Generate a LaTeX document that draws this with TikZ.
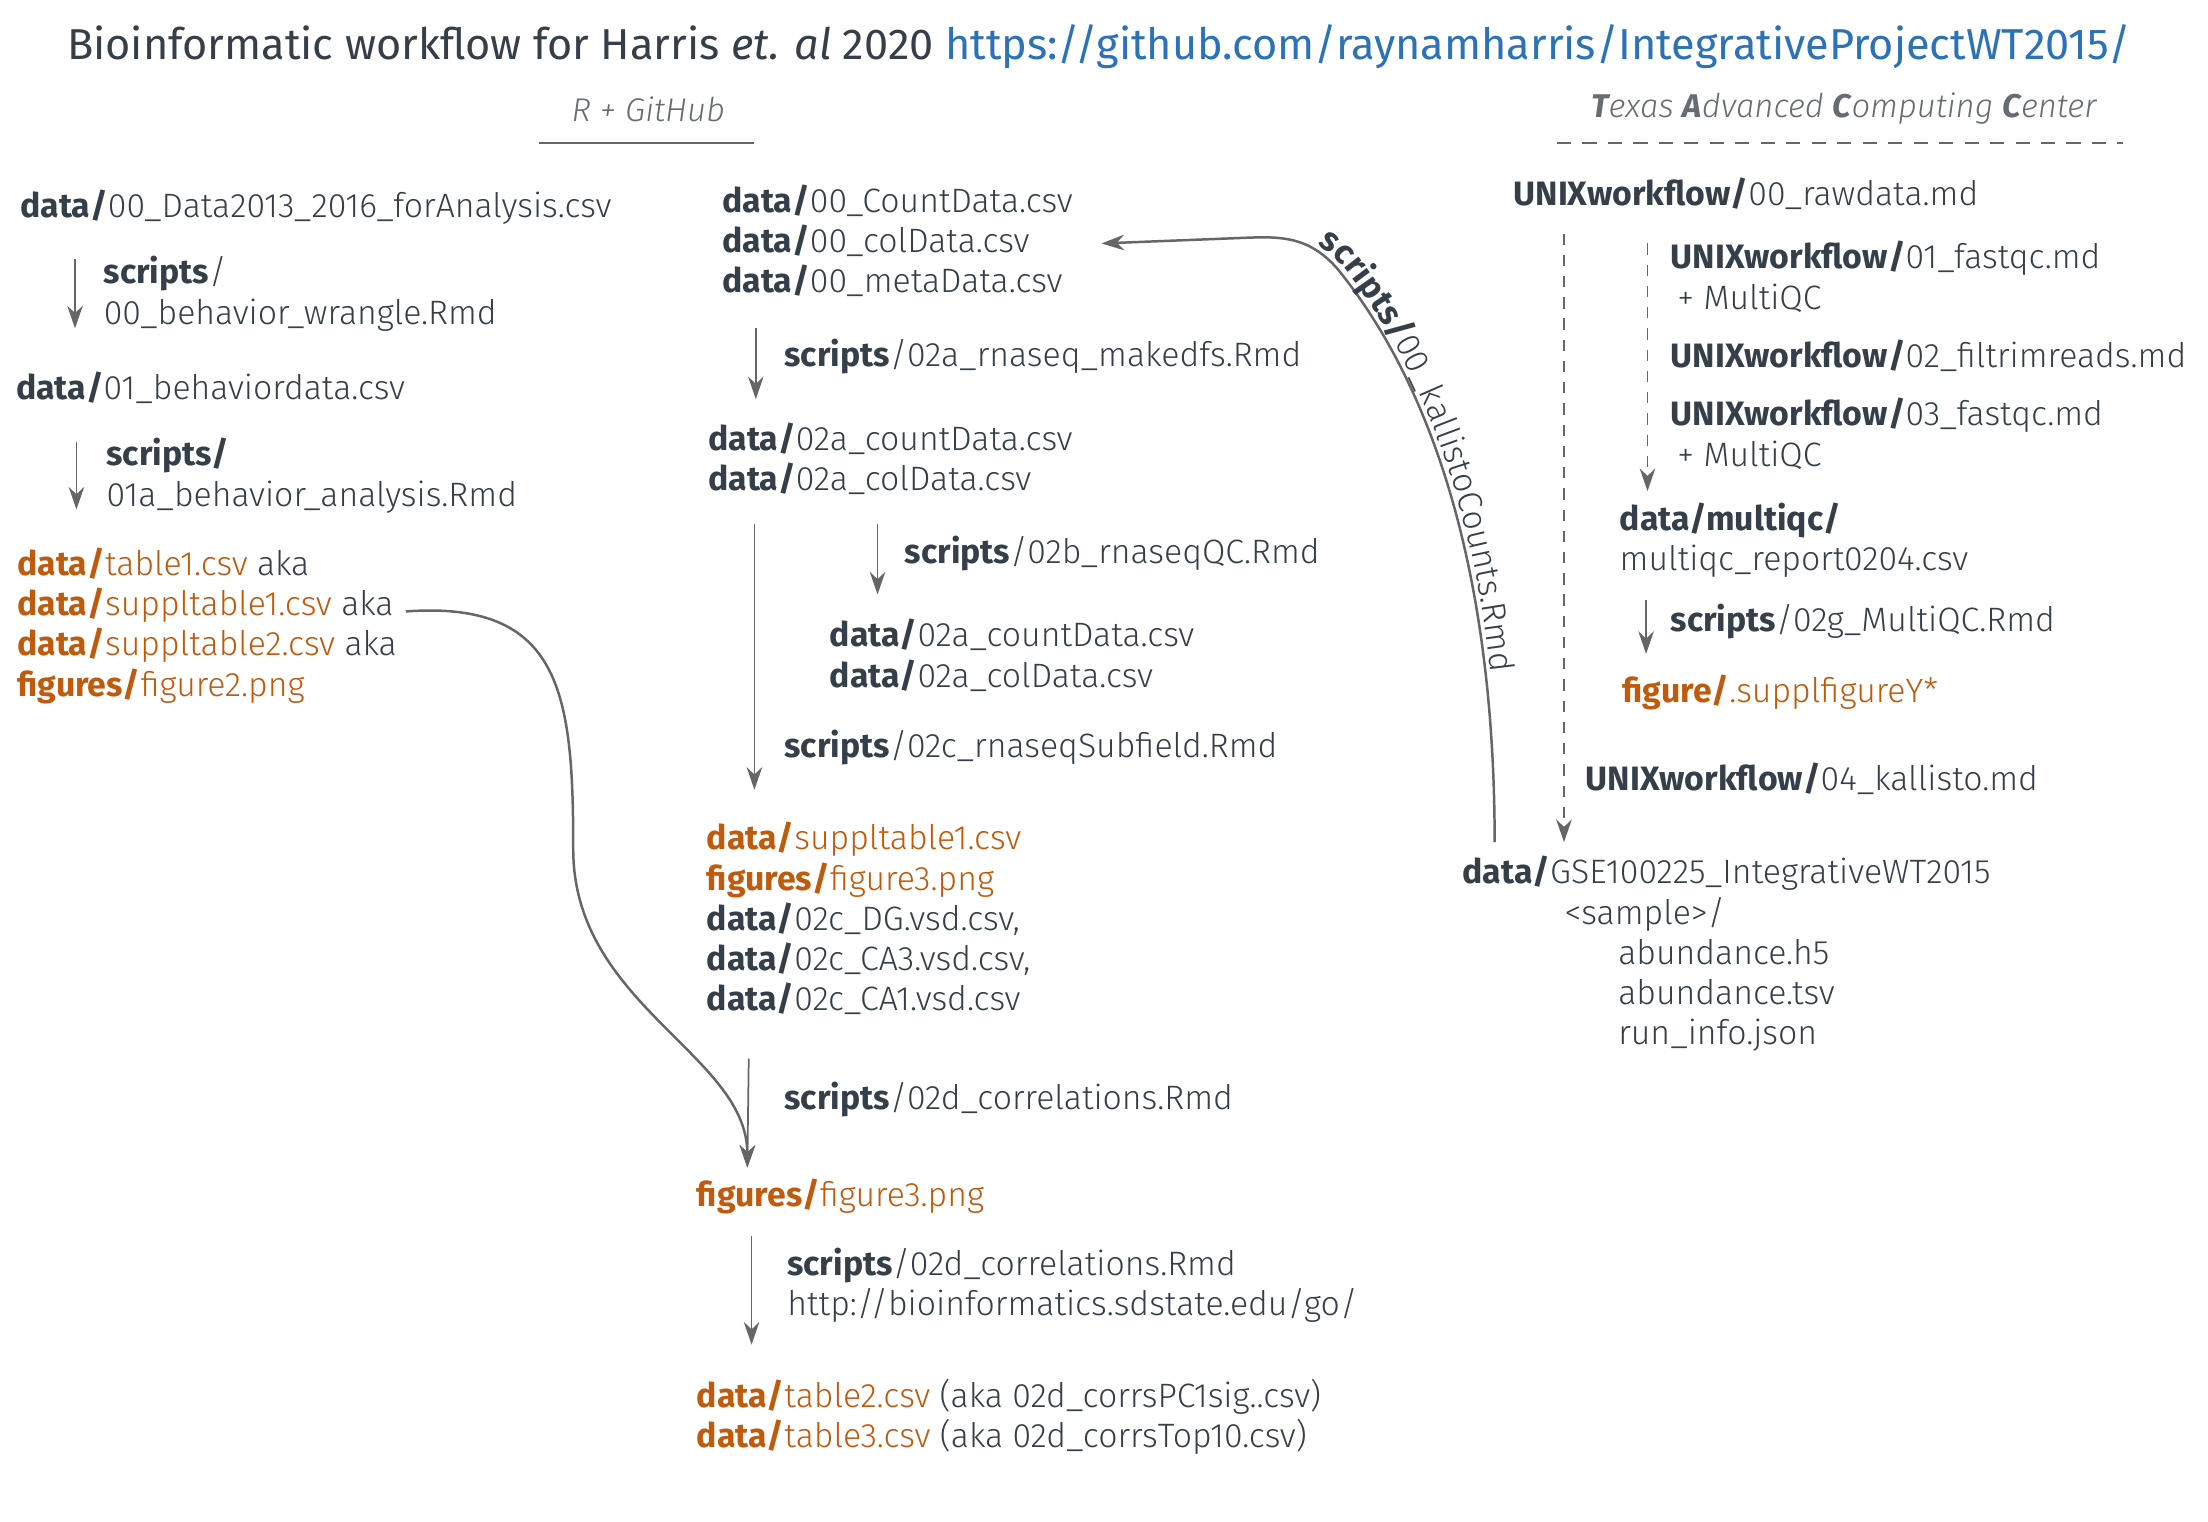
\documentclass[tikz,border=0pt]{standalone}
\usepackage{fontspec}
\setmainfont{Fira Sans Light}[BoldFont={Fira Sans Bold}, ItalicFont={Fira Sans Light Italic},
  BoldItalicFont={Fira Sans Bold Italic}]
\newfontfamily\titlefont{Fira Sans}
\usepackage{xcolor}
\usepackage{tikz}
\usetikzlibrary{arrows.meta,calc,decorations.text}
\definecolor{ink}{HTML}{343F4A}
\definecolor{orng}{HTML}{C05A0C}
\definecolor{linkblue}{HTML}{2B72B8}
\definecolor{ln}{HTML}{666666}
\definecolor{sub}{HTML}{666C73}
\newcommand{\bodyfont}{\fontsize{13.6pt}{16.2pt}\selectfont}
\newcommand{\outf}[2]{\textcolor{orng}{\textbf{#1}#2}}

\begin{document}
\begin{tikzpicture}[x=0.2mm, y=-0.2mm,
  every node/.style={anchor=west, inner sep=0pt, align=left, text=ink, font=\bodyfont},
  flow/.style={draw=ln, line width=0.7pt, -{Stealth[length=3.2mm, width=2.2mm]}},
  curvearr/.style={flow, line width=1pt},
  rule/.style={draw=ln, line width=0.8pt},
  subhead/.style={anchor=center, text=sub, font=\fontsize{13.2pt}{16pt}\selectfont}]
\useasboundingbox (0,0) rectangle (1560,1075.3);

% heading
\node[font=\titlefont\fontsize{17.4pt}{20pt}\selectfont] (title) at (47,33)
  {Bioinformatic workflow for Harris \textit{et. al} 2020 \textcolor{linkblue}{https://github.com/raynamharris/IntegrativeProjectWT2015/}};
\node[subhead] (rgit) at (458,77) {\textit{R + GitHub}};
\draw[rule] (381,101) -- (533,101);
\node[subhead] (tacc) at (1303,77)
  {\textit{\textbf{T}exas \textbf{A}dvanced \textbf{C}omputing \textbf{C}enter}};
\draw[rule, dash pattern=on 2mm off 1.6mm] (1100,101) -- (1500,101);

% behaviour (left)
\node (raw) at (14,146) {\textbf{data/}00\_Data2013\_2016\_forAnalysis.csv};
\node (wrangle) at (73,207.5) {\textbf{scripts}/\\00\_behavior\_wrangle.Rmd};
\node (behav) at (11,274) {\textbf{data/}01\_behaviordata.csv};
\node (analysis) at (75,336) {\textbf{scripts/}\\01a\_behavior\_analysis.Rmd};
\node (tables) at (12,442) {\outf{data/}{table1.csv} aka\\\outf{data/}{suppltable1.csv} aka\\
  \outf{data/}{suppltable2.csv} aka\\\outf{figures/}{figure2.png}};
\draw[flow] ($(wrangle.west)+(-20,-24.5)$) -- ($(wrangle.west)+(-20,24.5)$);
\draw[flow] ($(analysis.west)+(-21,-24)$) -- ($(analysis.west)+(-21,24)$);

% rnaseq (middle)
\node (counts) at (510,170) {\textbf{data/}00\_CountData.csv\\\textbf{data/}00\_colData.csv\\\textbf{data/}00\_metaData.csv};
\node (mkdfs) at (554,252) {\textbf{scripts}/02a\_rnaseq\_makedfs.Rmd};
\node (cnt2a) at (500,324) {\textbf{data/}02a\_countData.csv\\\textbf{data/}02a\_colData.csv};
\node (qc) at (639,391) {\textbf{scripts}/02b\_rnaseqQC.Rmd};
\node (cnt2b) at (586,463) {\textbf{data/}02a\_countData.csv\\\textbf{data/}02a\_colData.csv};
\node (subf) at (554,528) {\textbf{scripts}/02c\_rnaseqSubfield.Rmd};
\node (vsd) at (499,649) {\outf{data/}{suppltable1.csv}\\\outf{figures/}{figure3.png}\\
  \textbf{data/}02c\_DG.vsd.csv,\\\textbf{data/}02c\_CA3.vsd.csv,\\\textbf{data/}02c\_CA1.vsd.csv};
\node (corr1) at (554,777) {\textbf{scripts}/02d\_correlations.Rmd};
\node (fig3b) at (492,845) {\outf{figures/}{figure3.png}};
\node (corr2) at (556,908) {\textbf{scripts}/02d\_correlations.Rmd\\http://bioinformatics.sdstate.edu/go/};
\node (tab23) at (492,1001) {\outf{data/}{table2.csv} (aka 02d\_corrsPC1sig..csv)\\
  \outf{data/}{table3.csv} (aka 02d\_corrsTop10.csv)};
\coordinate (fig3in) at ($(fig3b.west)+(36,-20)$);
\draw[flow] ($(mkdfs.west)+(-20,-20)$) -- ($(mkdfs.west)+(-20,30)$);
\draw[flow] ($(qc.west)+(-19,-21)$) -- ($(qc.west)+(-19,29)$);
\draw[flow] ($(subf.west)+(-21,-158)$) -- ($(subf.west)+(-21,30)$);
\draw[flow] ($(vsd.west)+(30,99)$) -- (fig3in);
\draw[flow] ($(corr2.west)+(-25,-35)$) -- ($(corr2.west)+(-25,42)$);
\draw[curvearr] ($(tables.east)+(6,-10)$) .. controls +(110,-8) and +(0,-110) .. (405,600)
  .. controls +(0,110) and +(0,-80) .. (fig3in);

% TACC (right)
\node (unix00) at (1069,137) {\textbf{UNIXworkflow/}00\_rawdata.md};
\node (unix01) at (1180,195.5) {\textbf{UNIXworkflow/}01\_fastqc.md\\\hspace*{0.2em}+ MultiQC};
\node (unix02) at (1180,251) {\textbf{UNIXworkflow/}02\_filtrimreads.md};
\node (unix03) at (1180,306.5) {\textbf{UNIXworkflow/}03\_fastqc.md\\\hspace*{0.2em}+ MultiQC};
\node (mqc) at (1144,381.5) {\textbf{data/multiqc/}\\multiqc\_report0204.csv};
\node (mqcs) at (1180,439) {\textbf{scripts}/02g\_MultiQC.Rmd};
\node (supfig) at (1146,489) {\outf{figure/}{.supplfigureY*}};
\node (kallisto) at (1120,550) {\textbf{UNIXworkflow/}04\_kallisto.md};
\node (gse) at (1033,674) {\textbf{data/}GSE100225\_IntegrativeWT2015\\\hspace*{14.4mm}<sample>/\\
  \hspace*{22mm}abundance.h5\\\hspace*{22mm}abundance.tsv\\\hspace*{22mm}run\_info.json};
\draw[flow, dash pattern=on 1.6mm off 1.4mm] ($(unix00.west)+(36,28)$) -- ($(gse.west)+(72,-79)$);
\draw[flow, dash pattern=on 1.6mm off 1.4mm] ($(unix01.west)+(-16,-23.5)$) -- ($(mqc.west)+(20,-34.5)$);
\draw[flow] ($(mqcs.west)+(-17,-15)$) -- ($(mqcs.west)+(-17,23)$);

% kallisto counts back to the count tables
\draw[curvearr] ($(gse.west)+(23,-79)$) .. controls +(0,-195) and +(65,80) .. (945,190)
  .. controls +(-20,-23) and +(25,-1) .. (880,168) -- ($(counts.east)+(20,2)$);
\path[decorate, decoration={text along path, raise=0.8mm, text align={left indent=10mm},
  text={|\bodyfont\color{ink}\bfseries|scripts/|\bodyfont\color{ink}\mdseries|00{\_}kallistoCounts.Rmd}}]
  (880,168) .. controls (905,167) and (925,167) .. (945,190) .. controls (1010,270) and (1056,400) .. (1056,595);
\end{tikzpicture}
\end{document}
